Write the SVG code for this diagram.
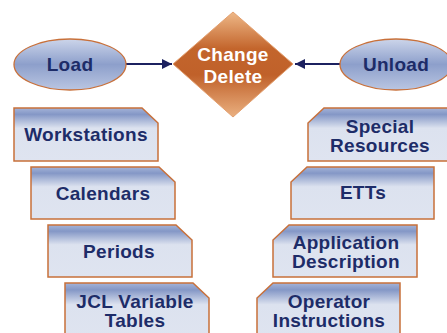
<svg xmlns="http://www.w3.org/2000/svg" width="447" height="333" viewBox="0 0 447 333">
<defs>
<linearGradient id="gEll" x1="0" y1="0" x2="0" y2="1">
<stop offset="0" stop-color="#ccd5ea"/>
<stop offset="0.5" stop-color="#8d9fcb"/>
<stop offset="1" stop-color="#bac6e2"/>
</linearGradient>
<linearGradient id="gDia" x1="0" y1="0" x2="0" y2="1">
<stop offset="0" stop-color="#eeb888"/>
<stop offset="0.35" stop-color="#c3652c"/>
<stop offset="0.6" stop-color="#c0612a"/>
<stop offset="1" stop-color="#eab080"/>
</linearGradient>
<linearGradient id="gBox" x1="0" y1="0" x2="0" y2="1">
<stop offset="0" stop-color="#a4b3d8"/>
<stop offset="0.12" stop-color="#8497c6"/>
<stop offset="0.38" stop-color="#dce2ef"/>
<stop offset="1" stop-color="#dfe4f0"/>
</linearGradient>
<marker id="ah" viewBox="0 0 10 10" refX="10" refY="5" markerWidth="5" markerHeight="5" orient="auto" markerUnits="strokeWidth">
<path d="M0,0 L10,5 L0,10 z" fill="#1c2160"/>
</marker>
</defs>
<style>
.ell{fill:url(#gEll);stroke:#c8703a;stroke-width:1.3}
.box{fill:url(#gBox);stroke:#c8703a;stroke-width:1.5}
.t{font-family:"Liberation Sans",Arial,sans-serif;font-weight:bold;font-size:19px;letter-spacing:0.3px;fill:#1d2c68;text-anchor:middle}
.w{fill:#ffffff}
.con{stroke:#1c2160;stroke-width:2;fill:none}
</style>
<rect width="447" height="333" fill="#ffffff"/>
<g id="connectors">
<line class="con" x1="126" y1="64" x2="172" y2="64" marker-end="url(#ah)"/>
<line class="con" x1="340" y1="64" x2="295" y2="64" marker-end="url(#ah)"/>
</g>
<g id="load">
<ellipse class="ell" cx="70" cy="64.5" rx="56" ry="25.5"/>
<text class="t" x="70" y="71">Load</text>
</g>
<g id="unload">
<ellipse class="ell" cx="396" cy="64.5" rx="56" ry="25.5"/>
<text class="t" x="396" y="71">Unload</text>
</g>
<g id="change-delete">
<path d="M233,12 L293,64 L233,117 L173,64 Z" fill="url(#gDia)" stroke="#e3a070" stroke-width="1"/>
<text class="t w" x="233" y="61">Change</text>
<text class="t w" x="233" y="83">Delete</text>
</g>
<g id="workstations">
<path class="box" d="M14,108 L142,108 L158,123 L158,161 L14,161 Z"/>
<text class="t" x="86" y="141">Workstations</text>
</g>
<g id="calendars">
<path class="box" d="M31,167 L159,167 L175,182 L175,219 L31,219 Z"/>
<text class="t" x="103" y="200">Calendars</text>
</g>
<g id="periods">
<path class="box" d="M48,225 L176,225 L192,240 L192,277 L48,277 Z"/>
<text class="t" x="119" y="258">Periods</text>
</g>
<g id="jcl-variable-tables">
<path class="box" d="M65,283 L193,283 L209,298 L209,340 L65,340 Z"/>
<text class="t" x="135" y="308">JCL Variable</text>
<text class="t" x="135" y="327">Tables</text>
</g>
<g id="special-resources">
<path class="box" d="M324,108 L452,108 L452,161 L308,161 L308,123 Z"/>
<text class="t" x="380" y="133">Special</text>
<text class="t" x="380" y="152">Resources</text>
</g>
<g id="etts">
<path class="box" d="M307,167 L434,167 L434,219 L291,219 L291,182 Z"/>
<text class="t" x="363" y="199">ETTs</text>
</g>
<g id="application-description">
<path class="box" d="M289,225 L417,225 L417,277 L273,277 L273,240 Z"/>
<text class="t" x="346" y="249">Application</text>
<text class="t" x="346" y="268">Description</text>
</g>
<g id="operator-instructions">
<path class="box" d="M273,283 L400,283 L400,340 L257,340 L257,298 Z"/>
<text class="t" x="329" y="308">Operator</text>
<text class="t" x="329" y="327">Instructions</text>
</g>
</svg>
